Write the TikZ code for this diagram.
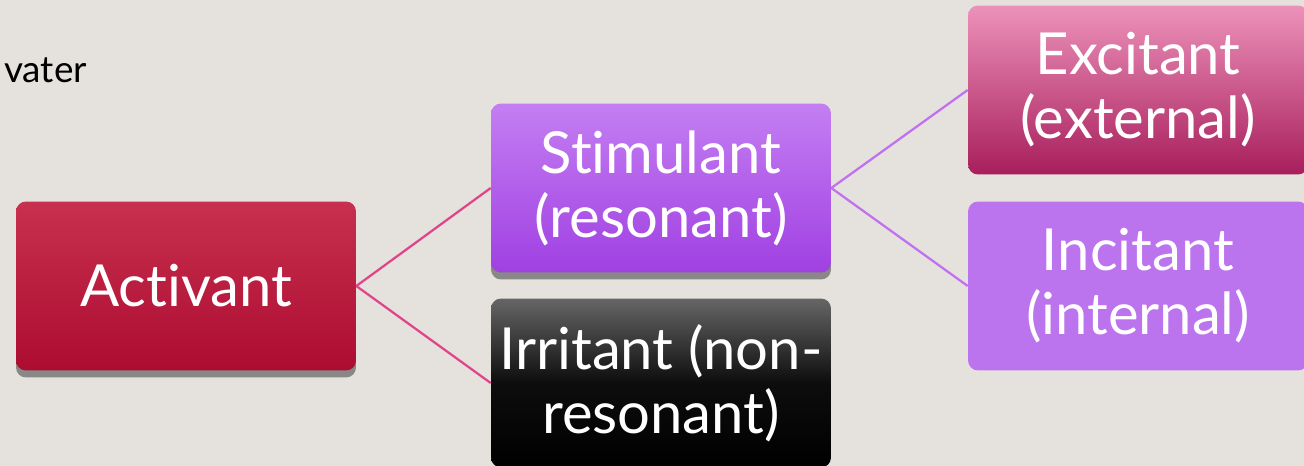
\documentclass[tikz,border=0pt]{standalone}
\usepackage{fontspec}
\setmainfont{Lato}[Ligatures={NoCommon}]
\usetikzlibrary{shadows}

\definecolor{bgcol}{HTML}{E5E2DD}
\definecolor{redtop}{HTML}{C8304F}
\definecolor{redbot}{HTML}{AC0C30}
\definecolor{violtop}{HTML}{C47EF2}
\definecolor{violbot}{HTML}{A040E2}
\definecolor{pinktop}{HTML}{EC92BA}
\definecolor{pinkmid}{HTML}{DC4A8A}
\definecolor{pinkbot}{HTML}{A81E5C}
\definecolor{lilac}{HTML}{BC74EE}
\definecolor{pinkline}{HTML}{E0448A}
\definecolor{lilacline}{HTML}{C070F0}

\begin{document}
\begin{tikzpicture}[x=0.02cm, y=-0.02cm,
    box/.style={rounded corners=0.2cm, minimum width=6.8cm, minimum height=3.38cm,
        inner sep=0pt, text=white, align=center,
        font=\fontsize{33}{36.4}\selectfont},
    shade/.style={drop shadow={shadow xshift=0pt, shadow yshift=-0.14cm, opacity=0.6, fill=black!70}},
    link/.style={line width=0.045cm}]
    \fill[bgcol] (0, 0) rectangle (1304, 466);
    \useasboundingbox (0, 0) rectangle (1304, 466);

    \node[anchor=base west, font=\fontsize{21}{24}\selectfont] (vater) at (-2, 83) {vater};

    \node[box, shade, top color=redtop, bottom color=redbot] (activant) at (186, 286) {Activant};
    \node[box, shade, top color=violtop, bottom color=violbot] (stimulant) at (661, 188) {Stimulant\\(resonant)};
    \node[box, top color=black!60, bottom color=black, middle color=black!95] (irritant) at (661, 383) {Irritant (non-\\resonant)};
    \node[box, top color=pinktop, middle color=pinkmid, bottom color=pinkbot] (excitant) at (1138, 90) {Excitant\\(external)};
    \node[box, fill=lilac] (incitant) at (1138, 286) {Incitant\\(internal)};

    \draw[link, pinkline] (activant.east) -- (stimulant.west);
    \draw[link, pinkline] (activant.east) -- (irritant.west);
    \draw[link, lilacline] (stimulant.east) -- (excitant.west);
    \draw[link, lilacline] (stimulant.east) -- (incitant.west);
\end{tikzpicture}
\end{document}
